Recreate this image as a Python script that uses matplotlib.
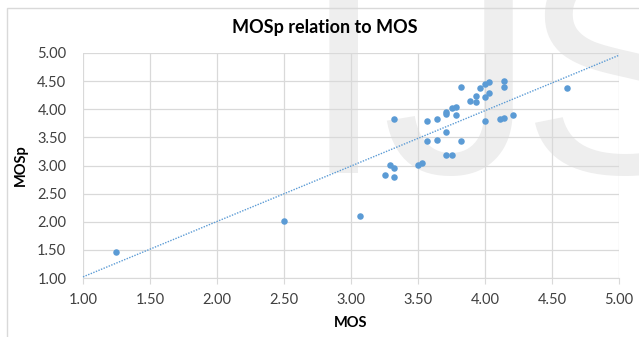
import matplotlib

matplotlib.use("Agg")
import matplotlib.pyplot as plt
import numpy as np

# values
mos = [1.25, 2.50, 3.07, 3.25, 3.29, 3.32, 3.32, 3.32, 3.50, 3.53,
       3.57, 3.57, 3.64, 3.64, 3.71, 3.71, 3.71, 3.71, 3.75, 3.75,
       3.78, 3.78, 3.82, 3.82, 3.89, 3.93, 3.93, 3.96, 4.00, 4.00,
       4.00, 4.03, 4.03, 4.11, 4.14, 4.14, 4.14, 4.21, 4.61]
mosp = [1.46, 2.01, 2.10, 2.83, 3.01, 2.96, 2.79, 3.83, 3.01, 3.04,
        3.79, 3.44, 3.83, 3.45, 3.96, 3.92, 3.60, 3.19, 4.02, 3.19,
        4.04, 3.89, 4.40, 3.44, 4.14, 4.24, 4.13, 4.37, 4.45, 4.21,
        3.79, 4.49, 4.29, 3.83, 4.50, 4.40, 3.84, 3.90, 4.38]
ticks = [1.00, 1.50, 2.00, 2.50, 3.00, 3.50, 4.00, 4.50, 5.00]
# trendline as drawn in the reference (y = slope * x + intercept)
trend_slope = 0.985
trend_intercept = 0.035
watermark = ["I", "J", "S"]

plt.rcParams["font.family"] = ["Lato", "DejaVu Sans"]

W, H = 639, 337
fig = plt.figure(figsize=(W / 100, H / 100), dpi=100)
fig.patch.set_facecolor("white")

# faint watermark letters behind the chart
for letter, left in zip(watermark, [301, 381, 520]):
    fig.text(left / W, 1 - 173 / H, letter, fontsize=221, color="#eeeeee",
             family="Liberation Sans", ha="left", va="baseline", zorder=-5)

# chart border
fig.add_artist(plt.Rectangle((7 / W, -0.05), 1.1, 1 - 8 / H + 0.05,
                             transform=fig.transFigure, fill=False,
                             edgecolor="#d9d9d9", linewidth=1, zorder=-4))

ax = fig.add_axes([83 / W, 1 - 278 / H, 536 / W, 225 / H])
ax.set_facecolor("none")

ax.set_xlim(1, 5)
ax.set_ylim(1, 5)
ax.set_xticks(ticks)
ax.set_yticks(ticks)
ax.set_xticklabels([f"{t:.2f}" for t in ticks])
ax.set_yticklabels([f"{t:.2f}" for t in ticks])
ax.grid(True, color="#d9d9d9", linewidth=0.9)
ax.set_axisbelow(True)
for side in ["top", "right", "left"]:
    ax.spines[side].set_visible(False)
ax.spines["bottom"].set_color("#d9d9d9")
ax.tick_params(axis="x", length=4, color="#d9d9d9", labelsize=10.5,
               labelcolor="#404040", pad=7)
ax.tick_params(axis="y", length=0, labelsize=10.5, labelcolor="#404040", pad=12)

ax.scatter(mos, mosp, s=22, color="#5b9bd5", zorder=3, linewidths=0)

xs = np.array([1.0, 5.0])
ax.plot(xs, trend_slope * xs + trend_intercept, linestyle=(0, (1, 1)),
        color="#5b9bd5", linewidth=1.0, zorder=2, clip_on=False)

fig.text(325 / W, 1 - 28 / H, "MOSp relation to MOS", fontsize=13,
         fontweight="bold", color="#000000", ha="center", va="center")
ax.set_xlabel("MOS", fontsize=10.5, fontweight="bold", color="#000000", labelpad=6)
ax.set_ylabel("MOSp", fontsize=10.5, fontweight="bold", color="#000000")
ax.yaxis.set_label_coords(-0.103, 0.5)

fig.savefig("out.png", dpi=100)
